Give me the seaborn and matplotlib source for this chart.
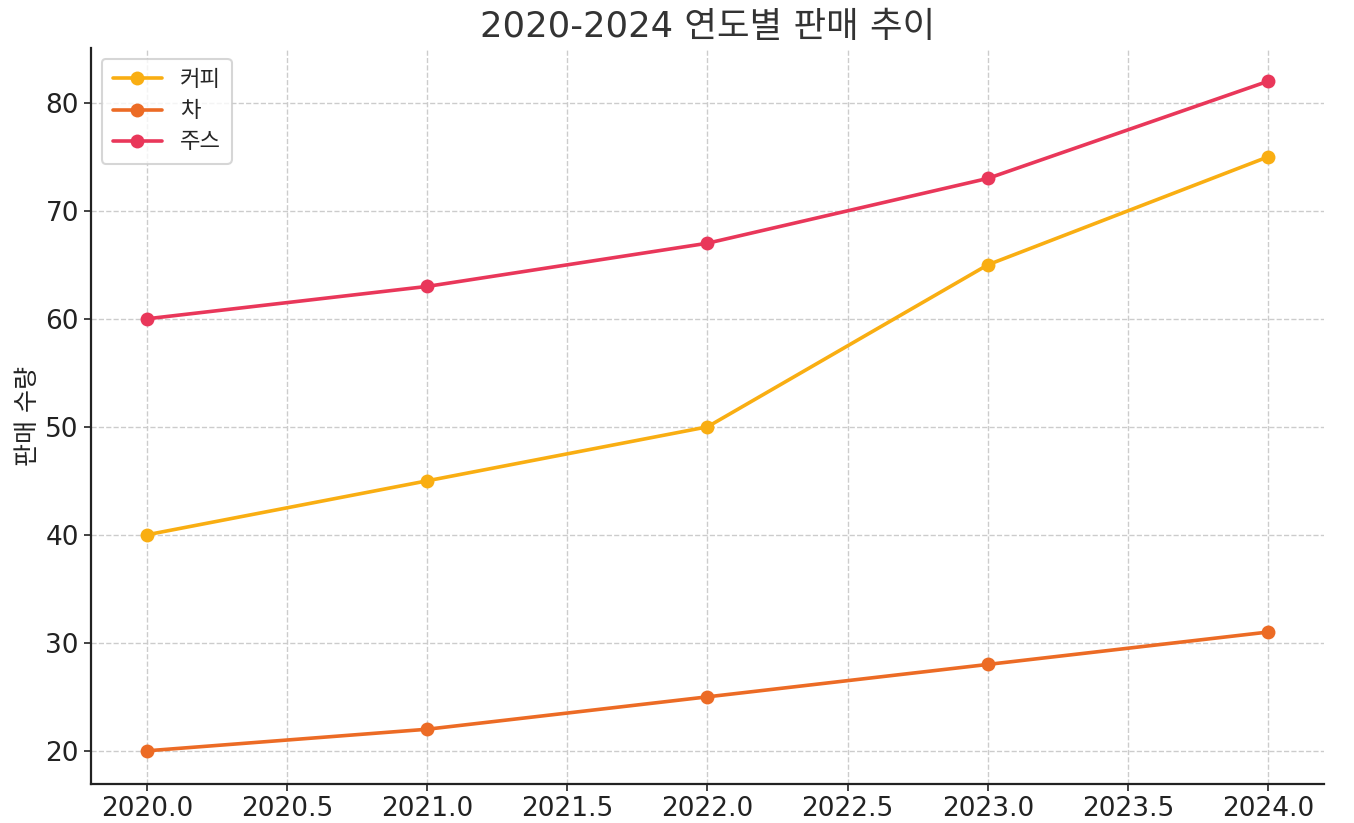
import matplotlib
matplotlib.use("Agg")
import matplotlib.pyplot as plt
import pandas as pd
import seaborn as sns

# Data
years = [2020, 2021, 2022, 2023, 2024]
series_names = ["커피", "차", "주스"]
coffee = [40, 45, 50, 65, 75]
tea = [20, 22, 25, 28, 31]
juice = [60, 63, 67, 73, 82]
colors = ["#F9AE12", "#EC6B25", "#E9375A"]

sns.set_theme(style="whitegrid")
plt.rcParams["font.family"] = ["DejaVu Sans", "Noto Sans CJK KR"]

df = pd.DataFrame({
    "year": years * 3,
    "value": coffee + tea + juice,
    "item": [n for n in series_names for _ in years],
})

fig, ax = plt.subplots(figsize=(13.54, 8.23), dpi=100)
sns.lineplot(
    data=df, x="year", y="value", hue="item", hue_order=series_names,
    palette=colors, marker="o", markersize=10, markeredgewidth=0,
    linewidth=2.6, ax=ax,
)

ax.set_facecolor("white")
ax.grid(True, linestyle="--", color="#cccccc", linewidth=1)
for side in ["top", "right"]:
    ax.spines[side].set_visible(False)
for side in ["left", "bottom"]:
    ax.spines[side].set_color("#222222")
    ax.spines[side].set_linewidth(1.6)

ax.tick_params(axis="both", labelsize=19, colors="#222222", length=5,
               width=1.2, direction="out", left=True, bottom=True)
ax.set_xlabel("")
ax.set_ylabel("판매 수량", fontsize=18, color="#222222")
ax.set_title("2020-2024 연도별 판매 추이", fontsize=25.5, color="#333333", pad=8)

leg = ax.legend(loc="upper left", fontsize=16, frameon=True, fancybox=True,
                borderpad=0.5, handlelength=2.2)
leg.get_frame().set_edgecolor("#cccccc")
leg.get_frame().set_linewidth(1.5)

fig.subplots_adjust(left=0.067, right=0.978, top=0.942, bottom=0.047)
fig.savefig("out.png", dpi=100)
